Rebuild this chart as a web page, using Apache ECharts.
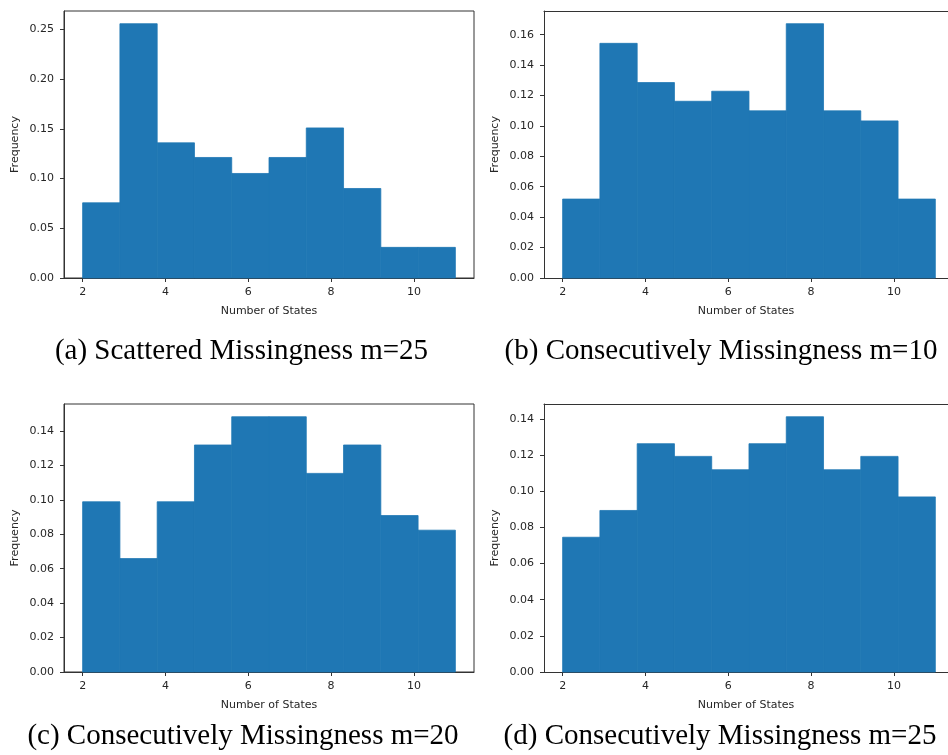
<!DOCTYPE html>
<html>
<head>
<meta charset="utf-8">
<script src="https://cdn.jsdelivr.net/npm/echarts@6/dist/echarts.min.js"></script>
<style>
html,body{margin:0;padding:0;background:#fff;}
#chart{width:948px;height:755px;}
</style>
</head>
<body>
<div id="chart"></div>
<script>
// Histogram bin edges (Number of States)
const binEdges = [2, 2.9, 3.8, 4.7, 5.6, 6.5, 7.4, 8.3, 9.2, 10.1, 11];
// Frequencies (density) per bin for each panel
const freqA = [0.0756, 0.2557, 0.1359, 0.1212, 0.1051, 0.1212, 0.1509, 0.0900, 0.0308, 0.0308];
const freqB = [0.0519, 0.1543, 0.1285, 0.1162, 0.1228, 0.1099, 0.1672, 0.1099, 0.1033, 0.0519];
const freqC = [0.0989, 0.0659, 0.0989, 0.1319, 0.1483, 0.1483, 0.1154, 0.1319, 0.0909, 0.0824];
const freqD = [0.0745, 0.0893, 0.1262, 0.1192, 0.1118, 0.1262, 0.1411, 0.1118, 0.1192, 0.0968];
// Tick labels
const xTicks = [2, 4, 6, 8, 10];
const yTicksA = [0, 0.05, 0.10, 0.15, 0.20, 0.25];
const yTicksB = [0, 0.02, 0.04, 0.06, 0.08, 0.10, 0.12, 0.14, 0.16];
const yTicksC = [0, 0.02, 0.04, 0.06, 0.08, 0.10, 0.12, 0.14];
const yTicksD = [0, 0.02, 0.04, 0.06, 0.08, 0.10, 0.12, 0.14];
// Captions
const captions = [
  '(a) Scattered Missingness m=25',
  '(b) Consecutively Missingness m=10',
  '(c) Consecutively Missingness m=20',
  '(d) Consecutively Missingness m=25'
];
const xName = 'Number of States';
const yName = 'Frequency';

// right-hand panels are cut off by the page edge (as in the reference)
const panels = [
  {freq: freqA, yt: yTicksA, xmax: 11.45, cut: false},
  {freq: freqB, yt: yTicksB, xmax: 11.306, cut: true},
  {freq: freqC, yt: yTicksC, xmax: 11.45, cut: false},
  {freq: freqD, yt: yTicksD, xmax: 11.306, cut: true}
];
const grids = [
  {left: 64, top: 11, width: 410, height: 267},
  {left: 544, top: 11, width: 404, height: 267},
  {left: 64, top: 404, width: 410, height: 268},
  {left: 544, top: 404, width: 404, height: 268}
];
const capPos = [[241.5, 351], [721, 351], [243, 736], [720, 736]];

const textColor = '#262626';
const lineColor = '#333';
const fontFam = '"DejaVu Sans", sans-serif';
const barColor = '#1f77b4';

const xAxes = panels.map((p, i) => ({
  type: 'value', gridIndex: i, min: 1.55, max: p.xmax, position: 'bottom',
  name: xName, nameLocation: 'middle', nameGap: 28,
  nameTextStyle: {color: textColor, fontSize: 11, fontFamily: fontFam},
  splitLine: {show: false},
  axisLine: {show: true, onZero: false, lineStyle: {color: lineColor, width: 1}},
  axisTick: {show: true, length: 4, customValues: xTicks, lineStyle: {color: lineColor}},
  axisLabel: {customValues: xTicks, color: textColor, fontSize: 11, fontFamily: fontFam, margin: 9}
}));
// top frame line for the cut-off right-hand panels
panels.forEach((p, i) => {
  if (p.cut) {
    xAxes.push({
      type: 'value', gridIndex: i, min: 1.55, max: p.xmax, position: 'top',
      splitLine: {show: false}, axisTick: {show: false}, axisLabel: {show: false},
      axisLine: {show: true, onZero: false, lineStyle: {color: lineColor, width: 1}}
    });
  }
});

const option = {
  backgroundColor: '#fff',
  animation: false,
  grid: grids.map((g, i) => Object.assign({show: !panels[i].cut, borderColor: lineColor, borderWidth: 1, backgroundColor: 'transparent'}, g)),
  xAxis: xAxes,
  yAxis: panels.map((p, i) => ({
    type: 'value', gridIndex: i, min: 0, max: v => v.max * 1.05,
    name: yName, nameLocation: 'middle', nameGap: 43,
    nameTextStyle: {color: textColor, fontSize: 11, fontFamily: fontFam},
    splitLine: {show: false},
    axisLine: {show: true, lineStyle: {color: lineColor, width: 1}},
    axisTick: {show: true, length: 4, customValues: p.yt, lineStyle: {color: lineColor}},
    axisLabel: {customValues: p.yt, color: textColor, fontSize: 11, fontFamily: fontFam, margin: 10,
      formatter: v => Number(v).toFixed(2)}
  })),
  series: panels.map((p, i) => ({
    type: 'custom', xAxisIndex: i, yAxisIndex: i,
    encode: {x: [0, 1], y: 2},
    data: p.freq.map((f, k) => [binEdges[k], binEdges[k + 1], f]),
    renderItem: (params, api) => {
      const a = api.coord([api.value(0), api.value(2)]);
      const b = api.coord([api.value(1), 0]);
      return {type: 'rect', shape: {x: a[0], y: a[1], width: b[0] - a[0], height: b[1] - a[1]},
        style: {fill: barColor, stroke: barColor, lineWidth: 0.8}};
    }
  })),
  graphic: captions.map((c, i) => ({
    type: 'text', x: capPos[i][0], y: capPos[i][1],
    style: {text: c, fill: '#000', font: '29px "Liberation Serif", serif', textAlign: 'center', textVerticalAlign: 'middle'}
  }))
};
const chart = echarts.init(document.getElementById('chart'));
chart.setOption(option);
</script>
</body>
</html>
